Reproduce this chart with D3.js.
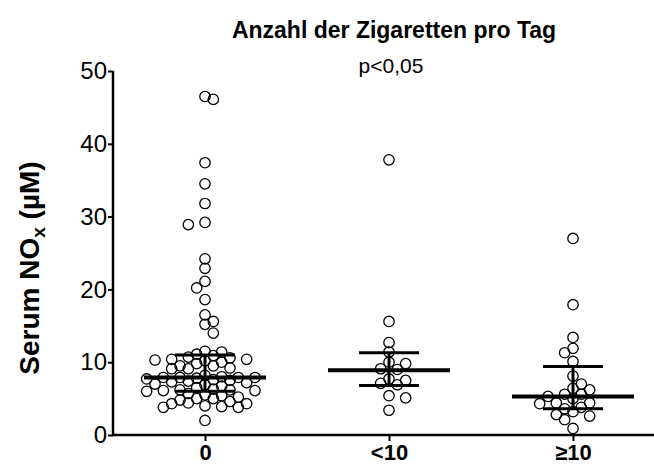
<!DOCTYPE html>
<html>
<head>
<meta charset="utf-8">
<script src="https://cdn.jsdelivr.net/npm/d3@7"></script>
<style>
  body { margin: 0; background: #fff; }
  svg { display: block; font-family: "Liberation Sans", Arial, sans-serif; }
</style>
</head>
<body>
<svg id="chart" width="654" height="465"></svg>
<script>
// Serum NOx by number of cigarettes per day
const categories = ["0", "<10", "≥10"];

const valuesNone = [
  46.1, 46.5, 37.4, 34.5, 31.8, 28.9, 29.2, 24.2, 22.9, 21.1, 20.2, 18.6,
  16.5, 15.6, 15.2, 14.0,
  11.5, 11.4, 11.1, 10.9, 10.7, 10.6, 10.4, 10.4, 10.3, 10.2,
  10.0, 9.8, 9.5, 9.5, 9.2, 9.1, 9.1, 8.2, 8.0, 7.9,
  7.9, 7.9, 7.9, 7.8, 7.7, 7.6, 7.5, 7.4, 7.3, 7.2,
  7.0, 6.9, 6.7, 6.5, 6.3, 6.2, 6.2, 6.1, 6.1, 6.0,
  5.7, 5.5, 5.4, 5.2, 5.0, 5.0, 4.8, 4.6, 4.4, 4.3,
  4.3, 4.0, 3.9, 3.8, 3.8, 2.0
];
const valuesUnder10 = [
  37.8, 15.6, 12.7, 11.4, 10.0, 9.8, 9.1, 9.0, 7.7, 7.5, 7.1, 6.9, 5.4, 5.1, 3.4
];
const valuesOver10 = [
  27.0, 17.9, 13.4, 11.9, 11.3, 10.1, 8.1, 7.0, 6.4, 6.2, 5.6, 5.6, 5.3, 5.0,
  4.4, 4.4, 4.3, 3.8, 3.6, 3.2, 2.8, 2.6, 2.1, 0.9
];
const groupValues = [valuesNone, valuesUnder10, valuesOver10];

// median with interquartile range per group
const medians = [7.9, 8.9, 5.3];
const lowerQuartiles = [6.0, 6.8, 3.6];
const upperQuartiles = [11.0, 11.3, 9.4];

const yTicks = [0, 10, 20, 30, 40, 50];

const svg = d3.select("#chart");

const x = d3.scalePoint().domain(categories).range([113, 665]).padding(0.5);
const y = d3.scaleLinear().domain([0, 50]).range([435, 71]);

const step = 8.33;   // horizontal grid for the scatter columns
const radius = 5.2;
const minDist = 8.8;

// column scatter: each point goes to the nearest free grid slot beside the centre
function swarm(values, cx) {
  const placed = [];
  const order = values.slice().sort((a, b) => b - a);
  order.forEach((v, n) => {
    const py = y(v);
    for (let k = 0; k < 60; k++) {
      const opts = k === 0 ? [0] : (n % 2 ? [k, -k] : [-k, k]);
      let hit = null;
      for (const s of opts) {
        const px = cx + s * step;
        if (placed.every(p => (p.x - px) ** 2 + (p.y - py) ** 2 >= minDist * minDist)) {
          hit = px; break;
        }
      }
      if (hit !== null) { placed.push({ x: hit, y: py, v }); break; }
    }
  });
  return placed;
}

// points
categories.forEach((c, i) => {
  const pts = swarm(groupValues[i], x(c));
  svg.append("g")
    .selectAll("circle")
    .data(pts)
    .join("circle")
    .attr("cx", d => d.x)
    .attr("cy", d => d.y)
    .attr("r", radius)
    .attr("fill", "none")
    .attr("stroke", "#000")
    .attr("stroke-width", 1.3);
});

// median and IQR bars
const summary = svg.append("g").attr("stroke", "#000").attr("fill", "none");
categories.forEach((c, i) => {
  const cx = x(c);
  summary.append("line")
    .attr("x1", cx - 61).attr("x2", cx + 61)
    .attr("y1", y(medians[i])).attr("y2", y(medians[i]))
    .attr("stroke-width", 4);
  [lowerQuartiles[i], upperQuartiles[i]].forEach(q => {
    summary.append("line")
      .attr("x1", cx - 30).attr("x2", cx + 30)
      .attr("y1", y(q)).attr("y2", y(q))
      .attr("stroke-width", 3);
  });
  summary.append("line")
    .attr("x1", cx).attr("x2", cx)
    .attr("y1", y(lowerQuartiles[i])).attr("y2", y(upperQuartiles[i]))
    .attr("stroke-width", 3);
});

// y axis
const yAxis = svg.append("g")
  .attr("transform", "translate(113,0)")
  .call(d3.axisLeft(y).tickValues(yTicks).tickSize(5).tickPadding(1).tickFormat(d3.format("d")));
yAxis.select(".domain").attr("stroke-width", 2.5).attr("d", `M0,${y(50)}V${y(0)}`);
yAxis.selectAll(".tick line").attr("stroke-width", 2);
yAxis.selectAll(".tick text")
  .attr("font-size", 24)
  .attr("font-family", "Liberation Sans, Arial, sans-serif")
  .attr("fill", "#000");

// x axis
const xAxis = svg.append("g")
  .attr("transform", `translate(0,${y(0)})`)
  .call(d3.axisBottom(x).tickSize(6).tickPadding(3));
xAxis.select(".domain").attr("stroke-width", 2.5).attr("d", `M113,0H665`);
xAxis.selectAll(".tick line").attr("stroke-width", 2);
xAxis.selectAll(".tick text")
  .attr("font-size", 22)
  .attr("font-weight", "bold")
  .attr("font-family", "Liberation Sans, Arial, sans-serif")
  .attr("fill", "#000");

// titles
svg.append("text")
  .attr("x", 394).attr("y", 38)
  .attr("text-anchor", "middle")
  .attr("font-size", 23).attr("font-weight", "bold")
  .text("Anzahl der Zigaretten pro Tag");

svg.append("text")
  .attr("x", 391).attr("y", 73)
  .attr("text-anchor", "middle")
  .attr("font-size", 21)
  .text("p<0,05");

const yTitle = svg.append("text")
  .attr("transform", "translate(39,268) rotate(-90)")
  .attr("text-anchor", "middle")
  .attr("font-size", 28).attr("font-weight", "bold");
yTitle.append("tspan").text("Serum NO");
yTitle.append("tspan").attr("font-size", 19).attr("dy", 6).text("x");
yTitle.append("tspan").attr("dy", -6).text(" (µM)");
</script>
</body>
</html>
